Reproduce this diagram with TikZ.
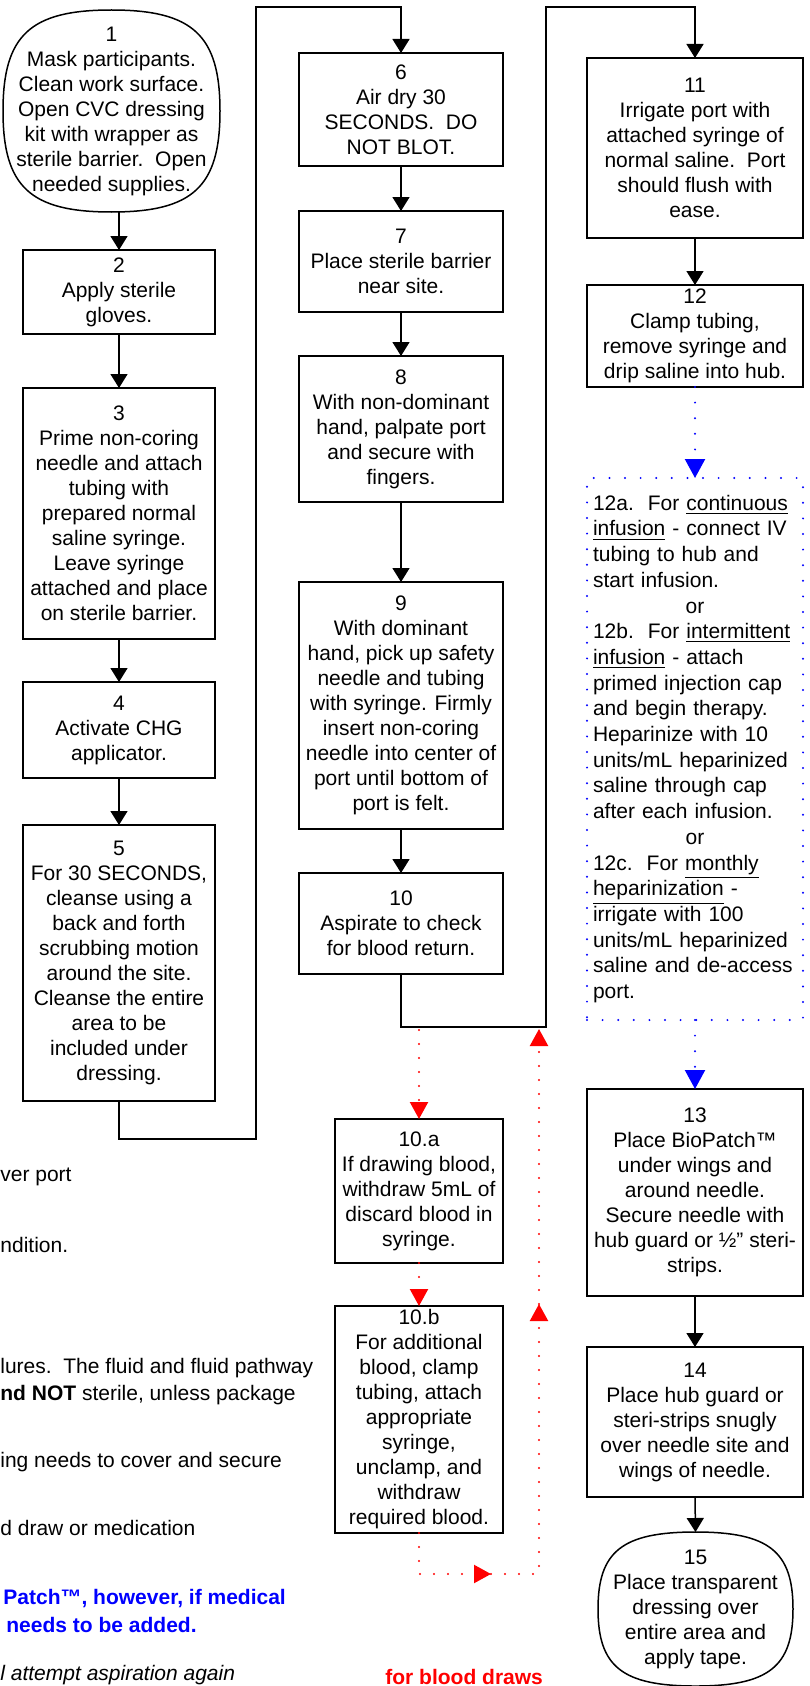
\documentclass[tikz,border=0pt]{standalone}
\usepackage{fontspec}
\setmainfont{Liberation Sans}
\usetikzlibrary{arrows.meta,calc}
\definecolor{blueline}{RGB}{0,0,255}
\definecolor{redline}{RGB}{255,0,0}
\newcommand\boxfont{\fontsize{10.5pt}{12.5pt}\selectfont}
\newcommand\listfont{\fontsize{10.5pt}{12.85pt}\selectfont\lineskiplimit=-20pt}
% box from pixel corners: name, x1, y1, x2, y2, style, text
\newcommand\pbox[7]{\node[#6, minimum width={(#4-#2)*0.5pt}, minimum height={(#5-#3)*0.5pt}] (#1) at ({(#2+#4)/2},{(#3+#5)/2}) {#7};}
% rounded terminator outline around a node
\newcommand\termoutline[1]{\draw[line width=0.75pt] (#1.north)
  .. controls ($(#1.north)!0.75!(#1.north west)$) and ($(#1.west)!0.75!(#1.north west)$) .. (#1.west)
  .. controls ($(#1.west)!0.75!(#1.south west)$) and ($(#1.south)!0.75!(#1.south west)$) .. (#1.south)
  .. controls ($(#1.south)!0.75!(#1.south east)$) and ($(#1.east)!0.75!(#1.south east)$) .. (#1.east)
  .. controls ($(#1.east)!0.75!(#1.north east)$) and ($(#1.north)!0.75!(#1.north east)$) .. (#1.north) -- cycle;}
\begin{document}
\begin{tikzpicture}[x=0.5pt,y=-0.5pt,
  stepbox/.style={draw, line width=0.75pt, inner sep=0pt, outer sep=0pt, align=center, font=\boxfont},
  termbox/.style={inner sep=0pt, outer sep=0pt, align=center, font=\boxfont},
  arr/.style={draw, line width=0.75pt, -{Triangle[length=7pt,width=8.5pt]}},
  conn/.style={draw, line width=0.75pt},
  bluedot/.style={draw=blueline, line width=1.1pt, line cap=round, dash pattern=on 0pt off 7.8pt},
  bluebox/.style={bluedot, inner sep=0pt, outer sep=0pt, text width=102pt, align=left, font=\listfont, text=black},
  bluearr/.style={bluedot, -{Triangle[length=9.5pt,width=10pt]}},
  reddot/.style={draw=redline, line width=1.1pt, line cap=round, dash pattern=on 0pt off 7pt},
  redarr/.style={reddot, -{Triangle[length=8.5pt,width=9pt]}},
  note/.style={anchor=west, inner sep=0pt, font=\boxfont},
]
\useasboundingbox (0,0) rectangle (809,1686);

% column 1
\pbox{n1}{3}{10}{220}{212}{termbox}{1\\Mask participants.\\Clean work surface.\\Open CVC dressing\\kit with wrapper as\\sterile barrier.\ \ Open\\needed supplies.}
\termoutline{n1}
\pbox{n2}{23}{250}{215}{334}{stepbox}{2\\Apply sterile\\gloves.}
\pbox{n3}{23}{388}{215}{639}{stepbox}{3\\Prime non-coring\\needle and attach\\tubing with\\prepared normal\\saline syringe.\\Leave syringe\\attached and place\\on sterile barrier.}
\pbox{n4}{23}{682}{215}{778}{stepbox}{4\\Activate CHG\\applicator.}
\pbox{n5}{23}{825}{215}{1101}{stepbox}{5\\For 30 SECONDS,\\cleanse using a\\back and forth\\scrubbing motion\\around the site.\\Cleanse the entire\\area to be\\included under\\dressing.}

% column 2
\pbox{n6}{299}{53}{503}{166}{stepbox}{6\\Air dry 30\\SECONDS.\ \ DO\\NOT BLOT.}
\pbox{n7}{299}{211}{503}{312}{stepbox}{7\\Place sterile barrier\\near site.}
\pbox{n8}{299}{356}{503}{502}{stepbox}{8\\With non-dominant\\hand, palpate port\\and secure with\\fingers.}
\pbox{n9}{299}{582}{503}{829}{stepbox}{9\\With dominant\\hand, pick up safety\\needle and tubing\\with syringe. Firmly\\insert non-coring\\needle into center of\\port until bottom of\\port is felt.}
\pbox{n10}{299}{873}{503}{974}{stepbox}{10\\Aspirate to check\\for blood return.}
\pbox{n10a}{335}{1119}{503}{1263}{stepbox}{10.a\\If drawing blood,\\withdraw 5mL of\\discard blood in\\syringe.}
\pbox{n10b}{335}{1306}{503}{1533}{stepbox}{10.b\\For additional\\blood, clamp\\tubing, attach\\appropriate\\syringe,\\unclamp, and\\withdraw\\required blood.}

% column 3
\pbox{n11}{587}{58}{803}{238}{stepbox}{11\\Irrigate port with\\attached syringe of\\normal saline.\ \ Port\\should flush with\\ease.}
\pbox{n12}{587}{285}{803}{387}{stepbox}{12\\Clamp tubing,\\remove syringe and\\drip saline into hub.}
\pbox{n12a}{587}{478}{803}{1020}{bluebox}{12a.\ \ For \underline{continuous}\\
\underline{infusion} - connect IV\\
tubing to hub and\\
start infusion.\\
\makebox[\linewidth]{or}\\
12b.\ \ For \underline{intermittent}\\
\underline{infusion} - attach\\
primed injection cap\\
and begin therapy.\\
Heparinize with 10\\
units/mL heparinized\\
saline through cap\\
after each infusion.\\
\makebox[\linewidth]{or}\\
12c.\ \ For \underline{monthly}\\
\underline{heparinization} -\\
irrigate with 100\\
units/mL heparinized\\
saline and de-access\\
port.}
\pbox{n13}{587}{1089}{803}{1296}{stepbox}{13\\Place BioPatch™\\under wings and\\around needle.\\Secure needle with\\hub guard or ½” steri-\\strips.}
\pbox{n14}{587}{1347}{803}{1497}{stepbox}{14\\Place hub guard or\\steri-strips snugly\\over needle site and\\wings of needle.}
\pbox{n15}{598}{1532}{793}{1686}{termbox}{15\\Place transparent\\dressing over\\entire area and\\apply tape.}
\termoutline{n15}

% black connectors
\draw[arr] (n2.north |- n1.south) -- (n2.north);
\draw[arr] (n2.south) -- (n3.north);
\draw[arr] (n3.south) -- (n4.north);
\draw[arr] (n4.south) -- (n5.north);
\coordinate (c1a) at (119,1139);
\coordinate (c1b) at (256,1139);
\coordinate (c1c) at (256,7);
\coordinate (c1d) at (401,7);
\draw[arr] (n5.south) -- (c1a) -- (c1b) -- (c1c) -- (c1d) -- (n6.north);
\draw[arr] (n6.south) -- (n7.north);
\draw[arr] (n7.south) -- (n8.north);
\draw[arr] (n8.south) -- (n9.north);
\draw[arr] (n9.south) -- (n10.north);
\coordinate (c2a) at (401,1027);
\coordinate (c2b) at (546,1027);
\coordinate (c2c) at (546,7);
\coordinate (c2d) at (695,7);
\draw[arr] (n10.south) -- (c2a) -- (c2b) -- (c2c) -- (c2d) -- (n11.north);
\draw[arr] (n11.south) -- (n12.north);
\draw[arr] (n13.south) -- (n14.north);
\draw[arr] (n14.south) -- (n15.north);

% blue dotted connectors
\draw[bluearr] (n12.south) -- (n12a.north);
\draw[bluearr] (n12a.south) -- (n13.north);

% red dotted connectors
\coordinate (r0) at (419,1030);
\coordinate (rb) at (419,1574);
\coordinate (rm) at (491,1574);
\coordinate (rc) at (539,1574);
\coordinate (ru) at (539,1304);
\coordinate (rt) at (539,1029);
\draw[redarr] (r0) -- (n10a.north);
\draw[redarr] (n10a.south) -- (n10b.north);
\draw[redarr] (n10b.south) -- (rb) -- (rm);
\draw[redarr] (rm) -- (rc) -- (ru);
\draw[redarr] (ru) -- (rt);
\node[anchor=south west, inner sep=0pt, font=\boxfont\bfseries, text=redline] (lbl) at (385,1685) {for blood draws};

% partial page text at left
\node[note] (t1) at (0,1177) {ver port};
\node[note] (t2) at (0,1245) {ndition.};
\node[note] (t3) at (0,1368) {lures.\ \ The fluid and fluid pathway};
\node[note] (t4) at (0,1395) {\textbf{nd NOT} sterile, unless package};
\node[note] (t5) at (0,1462) {ing needs to cover and secure};
\node[note] (t6) at (0,1528) {d draw or medication};
\node[note, font=\boxfont\bfseries, text=blueline] (t7) at (3,1598) {Patch™, however, if medical};
\node[note, font=\boxfont\bfseries, text=blueline] (t8) at (6,1625) {needs to be added.};
\node[anchor=south west, inner sep=0pt, font=\boxfont\itshape] (t9) at (0,1685) {l attempt aspiration again};
\end{tikzpicture}
\end{document}
